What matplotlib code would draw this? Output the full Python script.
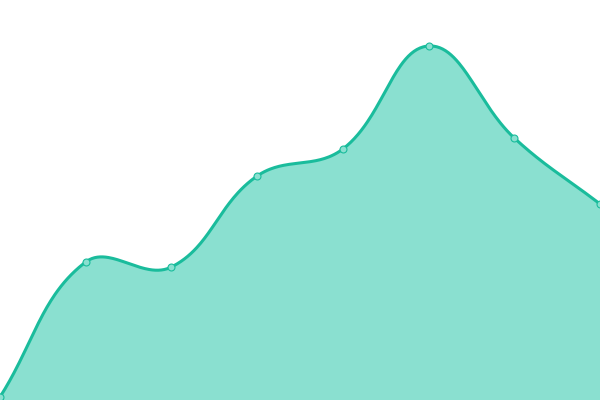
import numpy as np
import matplotlib
matplotlib.use("Agg")
import matplotlib.pyplot as plt

# datos (escala 0-400)
labels = ["1", "2", "3", "4", "5", "6", "7", "8"]
valores = [3, 138, 133, 224, 251, 354, 262, 196]

linea = "#1abc9c"
relleno = "#8ae0d0"
tension = 0.4

fig = plt.figure(figsize=(6, 4), dpi=100)
ax = fig.add_axes([0, 0, 1, 1])
ax.set_xlim(0, len(valores) - 1)
ax.set_ylim(0, 400)
ax.axis("off")

# puntos en pixeles para calcular la curva como Chart.js
x = np.arange(len(valores))
pts = ax.transData.transform(np.column_stack([x, valores]))


def control_points(pts, t):
    n = len(pts)
    prev_cp, next_cp = [], []
    for i in range(n):
        p = pts[i]
        a = pts[i - 1] if i > 0 else p
        b = pts[i + 1] if i < n - 1 else p
        d01 = np.hypot(*(p - a))
        d12 = np.hypot(*(b - p))
        s = d01 + d12
        fa = t * d01 / s if s else 0
        fb = t * d12 / s if s else 0
        prev_cp.append(p - fa * (b - a))
        next_cp.append(p + fb * (b - a))
    return prev_cp, next_cp


prev_cp, next_cp = control_points(pts, tension)
curva = []
tt = np.linspace(0, 1, 60)[:, None]
for i in range(len(pts) - 1):
    p0, p1, p2, p3 = pts[i], next_cp[i], prev_cp[i + 1], pts[i + 1]
    seg = ((1 - tt) ** 3) * p0 + 3 * ((1 - tt) ** 2) * tt * p1 + 3 * (1 - tt) * tt ** 2 * p2 + tt ** 3 * p3
    curva.append(seg if i == 0 else seg[1:])
curva = np.vstack(curva)
curva = ax.transData.inverted().transform(curva)

ax.fill_between(curva[:, 0], curva[:, 1], 0, color=relleno, linewidth=0)
ax.plot(curva[:, 0], curva[:, 1], color=linea, linewidth=2.2, solid_capstyle="round")
ax.plot(x, valores, "o", markersize=5, markerfacecolor=relleno,
        markeredgecolor=linea, markeredgewidth=0.8, clip_on=False)

fig.savefig("out.png", dpi=100)
